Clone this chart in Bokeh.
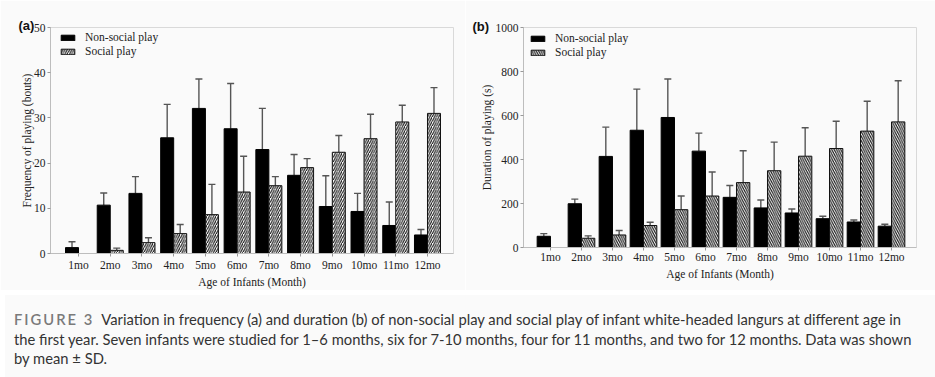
import numpy as np
from bokeh.plotting import figure
from bokeh.models import (ColumnDataSource, Whisker, TeeHead, Legend, LegendItem,
                          Title, Div, FixedTicker)
from bokeh.layouts import column, row
from bokeh.embed import file_html
from bokeh.resources import INLINE

months = ["1mo", "2mo", "3mo", "4mo", "5mo", "6mo", "7mo", "8mo", "9mo", "10mo", "11mo", "12mo"]

# (a) Frequency of playing (bouts): mean and SD
freq_nonsocial = [1.3, 10.7, 13.3, 25.6, 32.1, 27.6, 23.0, 17.3, 10.4, 9.3, 6.2, 4.1]
freq_nonsocial_sd = [1.3, 2.7, 3.7, 7.4, 6.5, 10.0, 9.1, 4.6, 6.8, 4.0, 5.2, 1.2]
freq_social = [0, 0.7, 2.4, 4.4, 8.6, 13.6, 15.0, 19.0, 22.4, 25.4, 29.1, 31.0]
freq_social_sd = [0, 0.5, 1.1, 2.0, 6.7, 7.9, 2.0, 2.0, 3.7, 5.4, 3.7, 5.7]
freq_ticks = [0, 10, 20, 30, 40, 50]

# (b) Duration of playing (s): mean and SD
dur_nonsocial = [51, 199, 414, 533, 591, 438, 228, 180, 157, 131, 116, 97]
dur_nonsocial_sd = [12, 21, 133, 187, 175, 82, 54, 36, 18, 11, 9, 9]
dur_social = [0, 42, 57, 100, 172, 234, 295, 349, 415, 450, 529, 571]
dur_social_sd = [0, 11, 20, 15, 62, 109, 145, 130, 129, 124, 136, 187]
dur_ticks = [0, 200, 400, 600, 800, 1000]

SERIF = "Liberation Serif"
BG = "#fafafa"
H = 290


def make_panel(ns, ns_sd, s, s_sd, ticks, ylabel, hatch, tag, frame_left,
               frame_w, frame_right, frame_top, frame_h, x_lo, x_hi, bw, leg_loc,
               tag_offset, tag_standoff, xl_standoff, xa_standoff, ya_standoff):
    title = Title(text=tag, align="left", offset=tag_offset, standoff=tag_standoff,
                  text_font="Liberation Sans", text_font_style="bold",
                  text_font_size="13px", text_color="#111111", vertical_align="bottom")
    p = figure(frame_width=frame_w, frame_height=frame_h, x_range=(x_lo, x_hi),
               y_range=(ticks[0], ticks[-1]), output_backend="svg",
               toolbar_location=None, title=title,
               min_border_left=frame_left, min_border_right=frame_right,
               min_border_top=frame_top,
               min_border_bottom=H - frame_top - frame_h)
    p.background_fill_color = BG
    p.border_fill_color = BG
    p.outline_line_color = "#d9d9d9"
    p.xgrid.visible = False
    p.ygrid.visible = False

    x = np.arange(len(months))
    r1 = p.vbar(x=x - bw / 2, top=ns, width=bw, fill_color="black",
                line_color="black", line_width=1)
    r2 = p.vbar(x=x + bw / 2, top=s, width=bw, fill_color="white",
                line_color="#111111", line_width=1, hatch_pattern=hatch,
                hatch_scale=4.5, hatch_color="#111111", hatch_weight=1.1)

    for xs, m, sd in ((x - bw / 2, ns, ns_sd), (x + bw / 2, s, s_sd)):
        keep = [i for i in range(len(m)) if sd[i] > 0]
        src = ColumnDataSource(dict(base=[xs[i] for i in keep],
                                    lower=[m[i] for i in keep],
                                    upper=[m[i] + sd[i] for i in keep]))
        w = Whisker(source=src, base="base", lower="lower", upper="upper",
                    dimension="height", line_color="#555555", line_width=1.4,
                    lower_head=None,
                    upper_head=TeeHead(size=7, line_color="#555555", line_width=1.4))
        p.add_layout(w)

    legend = Legend(items=[LegendItem(label="Non-social play", renderers=[r1]),
                           LegendItem(label="Social play", renderers=[r2])],
                    location=leg_loc)
    legend.border_line_color = None
    legend.background_fill_alpha = 0
    legend.label_text_font = SERIF
    legend.label_text_font_size = "11.5px"
    legend.label_text_color = "#222222"
    legend.glyph_width = 17
    legend.glyph_height = 7
    legend.label_standoff = 9
    legend.label_height = 14
    legend.spacing = 0
    legend.padding = 4
    legend.margin = 0
    p.add_layout(legend)

    p.xaxis.ticker = FixedTicker(ticks=list(range(len(months))))
    p.xaxis.major_label_overrides = {i: m for i, m in enumerate(months)}
    p.yaxis.ticker = FixedTicker(ticks=ticks)
    p.yaxis.minor_tick_line_color = None
    p.xaxis.minor_tick_line_color = None
    for ax in (p.xaxis, p.yaxis):
        ax.axis_line_color = "#bdbdbd"
        ax.major_tick_line_color = "#999999"
        ax.major_tick_out = 3
        ax.major_tick_in = 0
        ax.major_label_text_font = SERIF
        ax.major_label_text_font_size = "11.5px"
        ax.major_label_text_color = "#222222"
        ax.axis_label_text_font = SERIF
        ax.axis_label_text_font_size = "11.5px"
        ax.axis_label_text_font_style = "normal"
        ax.axis_label_text_color = "#222222"
    p.xaxis.major_label_standoff = xl_standoff
    p.yaxis.major_label_standoff = 2
    p.xaxis.axis_label = "Age of Infants (Month)"
    p.xaxis.axis_label_standoff = xa_standoff
    p.yaxis.axis_label = ylabel
    p.yaxis.axis_label_standoff = ya_standoff
    return p


pa = make_panel(freq_nonsocial, freq_nonsocial_sd, freq_social, freq_social_sd,
                freq_ticks, "Frequency of playing (bouts)", "right_diagonal_line", "(a)",
                frame_left=50, frame_w=403, frame_right=12, frame_top=25, frame_h=226,
                x_lo=-0.883, x_hi=11.82, bw=0.41, leg_loc=(9, 195),
                tag_offset=-32, tag_standoff=-11, xl_standoff=2, xa_standoff=2,
                ya_standoff=-2)
pb = make_panel(dur_nonsocial, dur_nonsocial_sd, dur_social, dur_social_sd,
                dur_ticks, "Duration of playing (s)", "left_diagonal_line", "(b)",
                frame_left=58, frame_w=393, frame_right=19, frame_top=27, frame_h=220,
                x_lo=-0.87, x_hi=11.806, bw=0.43, leg_loc=(6, 188),
                tag_offset=-51, tag_standoff=-12, xl_standoff=0, xa_standoff=2,
                ya_standoff=0)

caption = ('<span style="letter-spacing:2px;color:#7a7a7a;font-weight:600">FIGURE 3</span>'
           '&nbsp;&nbsp;Variation in frequency (a) and duration (b) of non-social play and social play '
           'of infant white-headed langurs at different age in<br>'
           'the first year. Seven infants were studied for 1–6 months, six for 7-10 months, '
           'four for 11 months, and two for 12 months. Data was shown<br>'
           'by mean ± SD.')
div = Div(text=caption, width=935, height=87,
          styles={"font-family": "Lato", "font-size": "14.75px", "line-height": "19.5px",
                  "color": "#333333", "white-space": "nowrap", "padding-left": "9px",
                  "padding-top": "15px", "background-color": BG, "box-sizing": "border-box"})

layout = column(row(pa, pb, spacing=0), div, spacing=0)
open("out.html", "w").write(file_html(layout, INLINE))
